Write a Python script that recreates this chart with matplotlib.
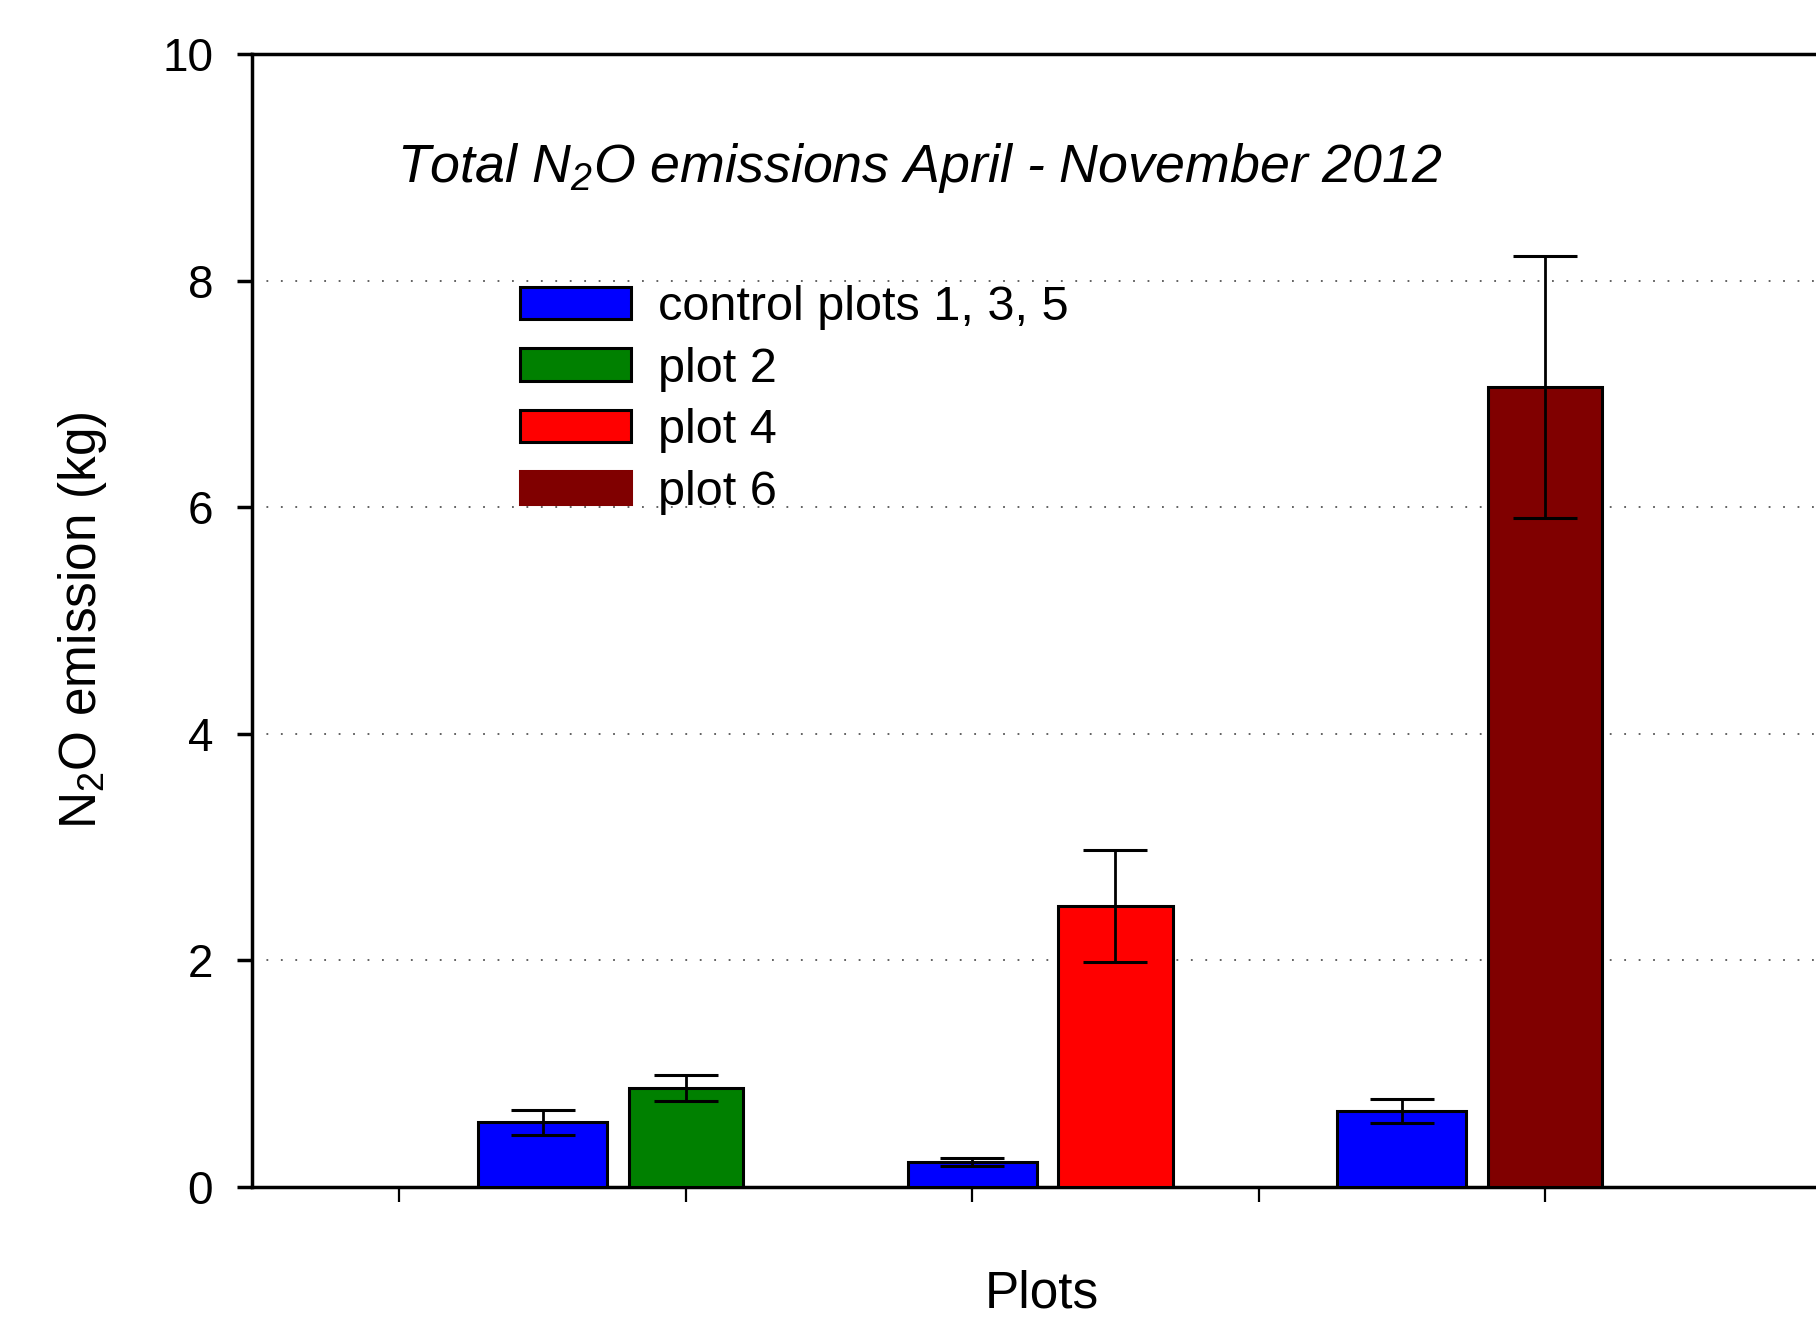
import matplotlib
matplotlib.use('Agg')
import matplotlib.pyplot as plt
from matplotlib.patches import Patch
import numpy as np

plt.rcParams['font.family'] = ['Liberation Sans', 'DejaVu Sans']
plt.rcParams['mathtext.fontset'] = 'custom'
plt.rcParams['mathtext.rm'] = 'Liberation Sans'
plt.rcParams['mathtext.it'] = 'Liberation Sans:italic'

# data (kg N2O)
control_label = 'control plots 1, 3, 5'
control_means = [0.57, 0.22, 0.67]
control_err = [0.107, 0.037, 0.105]
treat_labels = ['plot 2', 'plot 4', 'plot 6']
treat_means = [0.875, 2.48, 7.06]
treat_err = [0.115, 0.49, 1.155]
treat_colors = ['#008000', '#ff0000', '#800000']
control_color = '#0000ff'
yticks = [0, 2, 4, 6, 8, 10]

W, H = 1816, 1321
unit = 143.2          # pixels per x unit
x0, x1 = -1.03, 11
fig = plt.figure(figsize=(W / 100, H / 100), dpi=100)
ax = fig.add_axes([252 / W, 134 / H, (x1 - x0) * unit / W, 1133 / H])

# groups are 3 units apart; control bar offset 1, treatment bar offset 2
grp = np.arange(3) * 3
err_kw = dict(ecolor='black', elinewidth=2, capsize=23, capthick=2.2)
ax.bar(grp + 1, control_means, width=0.9, color=control_color, edgecolor='black',
       linewidth=2.2, yerr=control_err, error_kw=err_kw, zorder=3)
ax.bar(grp + 2, treat_means, width=0.8, color=treat_colors, edgecolor='black',
       linewidth=2.2, yerr=treat_err, error_kw=err_kw, zorder=3)

ax.set_xlim(x0, x1)
ax.set_ylim(0, 10)
ax.set_xticks([0, 2, 4, 6, 8])
ax.set_xticklabels([])
ax.set_yticks(yticks)
ax.set_yticklabels([str(v) for v in yticks])

for g in yticks[1:-1]:
    ax.axhline(g, color='#555555', linewidth=1.3, linestyle=(0, (1, 7)), zorder=1)

ax.spines['right'].set_visible(False)
for s in ['left', 'top', 'bottom']:
    ax.spines[s].set_linewidth(2.5)
ax.tick_params(axis='y', direction='out', length=11, width=2.5, pad=17, labelsize=33)
ax.tick_params(axis='x', direction='out', length=11, width=1.6)

ax.set_ylabel(r'N$\mathregular{_2}$O emission (kg)', fontsize=37, labelpad=38)
fig.text(1042 / W, 3 / H, 'Plots', fontsize=37, ha='center', va='bottom')

ax.text(397 / W, 1 - 182 / H, r'Total N$\mathregular{_2}$O emissions April - November 2012',
        transform=fig.transFigure, fontsize=38.7, style='italic', ha='left', va='baseline')

handles = [Patch(facecolor=control_color, edgecolor='black', linewidth=2.2)]
for c, l in zip(treat_colors, treat_labels):
    handles.append(Patch(facecolor=c, edgecolor='black' if l != 'plot 6' else c, linewidth=2.2))
fig.legend(handles, [control_label] + treat_labels, loc='upper left',
           bbox_to_anchor=(520 / W, 1 - 285 / H), bbox_transform=fig.transFigure,
           frameon=False, fontsize=35, handlelength=2.28, handleheight=0.66,
           handletextpad=0.56, labelspacing=0.34, borderpad=0, borderaxespad=0)

fig.savefig('out.png', dpi=100)
plt.close(fig)
